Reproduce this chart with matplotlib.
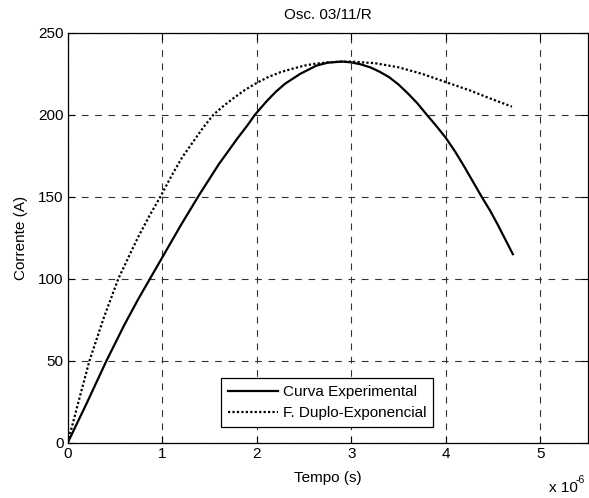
import matplotlib
matplotlib.use("Agg")
import matplotlib.pyplot as plt

plt.rcParams['font.family'] = ['Liberation Sans', 'DejaVu Sans']
plt.rcParams['font.size'] = 11

# Measured current (time in microseconds, current in A)
t_exp = [0.0, 0.2, 0.41, 0.6, 0.75, 0.87, 1.0, 1.1, 1.2, 1.3, 1.4, 1.5, 1.6, 1.7,
         1.8, 1.9, 1.98, 2.1, 2.2, 2.3, 2.46, 2.63, 2.75, 2.9, 3.0, 3.1, 3.2,
         3.3, 3.4, 3.5, 3.6, 3.7, 3.8, 3.9, 4.0, 4.1, 4.2, 4.3, 4.38, 4.47,
         4.55, 4.63, 4.71]
i_exp = [0, 24, 50, 72, 88, 100, 113, 123, 133, 142.5, 152, 161, 170, 178,
         186, 193.5, 200, 208, 214, 219, 225, 230, 231.8, 232.5, 232, 230.8, 229,
         226.3, 223, 218.5, 213, 207, 200, 193.2, 186, 177.5, 168, 158, 150, 141.5,
         133, 124, 115]

# Double-exponential fit
t_fit = [0.0, 0.1, 0.23, 0.38, 0.535, 0.65, 0.75, 0.87, 0.98, 1.1, 1.21, 1.32,
         1.43, 1.54, 1.65, 1.75, 1.87, 2.0, 2.12, 2.25, 2.37, 2.5, 2.62, 2.75,
         2.87, 3.0, 3.25, 3.5, 3.75, 4.0, 4.25, 4.47, 4.7]
i_fit = [0, 22, 50, 76, 100, 114, 126, 139, 150, 163, 174, 183,
         192, 200, 205.5, 210, 215, 219.5, 223, 226, 228, 230, 231.2, 232,
         232.4, 232.5, 231.5, 229, 225, 220, 215, 210, 205]

x_ticks = [0, 1, 2, 3, 4, 5]
y_ticks = [0, 50, 100, 150, 200, 250]

fig = plt.figure(figsize=(5.89, 4.98), dpi=100)
ax = fig.add_axes([0.115, 0.111, 0.8825, 0.823])

ax.plot(t_exp, i_exp, color='black', lw=1.6, ls='-', label='Curva Experimental')
ax.plot(t_fit, i_fit, color='black', lw=1.6, ls=(0, (1, 1)), label='F. Duplo-Exponencial')

ax.set_xlim(0, 5.5)
ax.set_ylim(0, 250)
ax.set_xticks(x_ticks)
ax.set_yticks(y_ticks)
ax.set_xticklabels([str(v) for v in x_ticks])
ax.set_yticklabels([str(v) for v in y_ticks])

ax.grid(True, color='#333333', ls=(0, (6, 6)), lw=0.8)
ax.tick_params(direction='in', length=5, width=0.8, top=True, right=True,
               colors='black', labelsize=11, pad=3)
for s in ax.spines.values():
    s.set_linewidth(0.9)
    s.set_color('black')

ax.set_title('Osc. 03/11/R', fontsize=11, pad=10)
ax.set_xlabel('Tempo (s)', fontsize=11, labelpad=7)
ax.set_ylabel('Corrente (A)', fontsize=11, labelpad=7)

# scale factor for the time axis
ax.text(0.926, -0.120, 'x 10', transform=ax.transAxes, ha='left', va='baseline', fontsize=11)
ax.text(0.977, -0.098, '-6', transform=ax.transAxes, ha='left', va='baseline', fontsize=7.5)

leg = ax.legend(loc='lower center', bbox_to_anchor=(0.499, 0.02), frameon=True,
                fancybox=False, edgecolor='black', framealpha=1, fontsize=11,
                handlelength=3.3, borderpad=0.45, labelspacing=0.45, handletextpad=0.3)
leg.get_frame().set_linewidth(0.9)

fig.savefig('out.png', dpi=100)
